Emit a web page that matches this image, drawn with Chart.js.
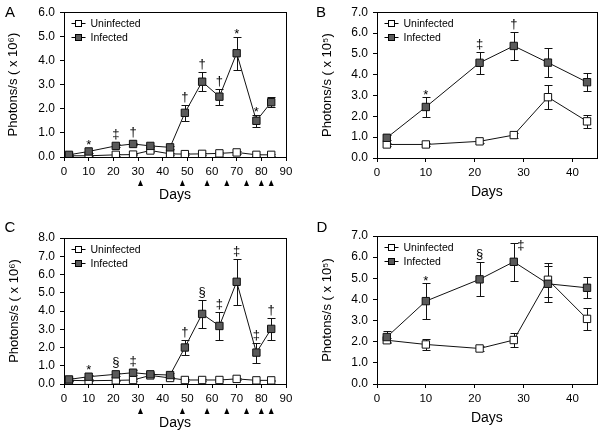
<!DOCTYPE html>
<html>
<head>
<meta charset="utf-8">
<title>Photons/s</title>
<script src="https://cdn.jsdelivr.net/npm/chart.js@4.4.1/dist/chart.umd.min.js"></script>
<style>
body { margin: 0; background: #fff; }
#figure { position: relative; width: 603px; height: 435px; }
#figure canvas { position: absolute; }
</style>
</head>
<body>
<div id="figure">
  <canvas id="panelA" width="300" height="215" style="left:0;top:0"></canvas>
  <canvas id="panelB" width="303" height="215" style="left:300px;top:0"></canvas>
  <canvas id="panelC" width="300" height="220" style="left:0;top:215px"></canvas>
  <canvas id="panelD" width="303" height="220" style="left:300px;top:215px"></canvas>
</div>
<script>
var FONT = '"Liberation Sans", Arial, Helvetica, sans-serif';
Chart.defaults.font.family = FONT;
Chart.defaults.color = '#000';

// days of imaging
var daysLong = [2, 10, 21, 28, 35, 43, 49, 56, 63, 70, 78, 84];
var daysShort = [2, 10, 21, 28, 35, 43];
var arrowDays = [31, 48, 58, 66, 74, 80, 84]; // little arrowheads under panels A and C

// panel A (x 10^6)
var infectedA = [0.09, 0.23, 0.46, 0.54, 0.46, 0.4, 1.83, 3.12, 2.5, 4.3, 1.5, 2.27];
var infectedErrA = [0.04, 0.06, 0.06, 0.05, 0.05, 0.07, 0.32, 0.4, 0.33, 0.68, 0.25, 0.2];
var uninfectedA = [0.05, 0.05, 0.09, 0.1, 0.27, 0.13, 0.12, 0.13, 0.15, 0.19, 0.09, 0.09];
var uninfectedErrA = [0.02, 0.02, 0.03, 0.03, 0.05, 0.03, 0.03, 0.03, 0.04, 0.05, 0.03, 0.03];
var sigA = ['', '*', '\u2021', '\u2020', '', '', '\u2020', '\u2020', '\u2020', '*', '*', ''];

// panel B (x 10^5)
var infectedB = [0.97, 2.45, 4.57, 5.38, 4.58, 3.64];
var infectedErrB = [0.12, 0.46, 0.52, 0.68, 0.7, 0.42];
var uninfectedB = [0.65, 0.65, 0.8, 1.1, 2.92, 1.76];
var uninfectedErrB = [0.05, 0.05, 0.06, 0.12, 0.58, 0.32];
var sigB = ['', '*', '\u2021', '\u2020', '', ''];

// panel C (x 10^6)
var infectedC = [0.25, 0.4, 0.53, 0.62, 0.53, 0.49, 2.0, 3.84, 3.18, 5.6, 1.72, 3.02];
var infectedErrC = [0.1, 0.1, 0.1, 0.12, 0.08, 0.1, 0.42, 0.75, 0.75, 1.25, 0.55, 0.62];
var uninfectedC = [0.2, 0.18, 0.2, 0.22, 0.47, 0.33, 0.22, 0.22, 0.22, 0.28, 0.2, 0.2];
var uninfectedErrC = [0.04, 0.04, 0.04, 0.05, 0.06, 0.05, 0.04, 0.04, 0.05, 0.06, 0.04, 0.04];
var sigC = ['', '*', '\u00a7', '\u2021', '', '', '\u2020', '\u00a7', '\u2021', '\u2021', '\u2021', '\u2020'];

// panel D (x 10^5)
var infectedD = [2.22, 3.92, 4.95, 5.78, 4.74, 4.55];
var infectedErrD = [0.3, 0.85, 0.8, 0.9, 0.85, 0.5];
var uninfectedD = [2.07, 1.87, 1.68, 2.08, 4.93, 3.08];
var uninfectedErrD = [0.1, 0.28, 0.1, 0.32, 0.8, 0.53];
var sigD = ['', '*', '\u00a7', '\u2021', '', ''];

function toPoints(days, values) {
  var pts = [];
  for (var i = 0; i < days.length; i++) {
    pts.push({ x: days[i], y: values[i] });
  }
  return pts;
}

var extras = {
  id: 'extras',
  beforeDatasetsDraw: function (chart) { // error bars, under the markers
    var ctx = chart.ctx;
    var xs = chart.scales.x, ys = chart.scales.y;
    ctx.save();
    ctx.strokeStyle = '#111';
    ctx.lineWidth = 1;
    chart.data.datasets.forEach(function (ds) {
      ds.data.forEach(function (p, i) {
        var e = ds.errors[i];
        if (!e) return;
        var x = Math.round(xs.getPixelForValue(p.x)) + 0.5;
        var top = Math.round(ys.getPixelForValue(p.y + e)) + 0.5;
        var bot = Math.round(ys.getPixelForValue(Math.max(p.y - e, 0))) + 0.5;
        ctx.beginPath();
        ctx.moveTo(x, top); ctx.lineTo(x, bot);
        ctx.moveTo(x - 4, top); ctx.lineTo(x + 4, top);
        ctx.moveTo(x - 4, bot); ctx.lineTo(x + 4, bot);
        ctx.stroke();
      });
    });
    ctx.restore();
  },
  afterDatasetsDraw: function (chart, args, opts) {
    var ctx = chart.ctx;
    var a = chart.chartArea;
    var xs = chart.scales.x, ys = chart.scales.y;
    ctx.save();
    // frame round the plot
    ctx.strokeStyle = '#000';
    ctx.lineWidth = 1;
    ctx.strokeRect(Math.round(a.left) + 0.5, Math.round(a.top) + 0.5,
      Math.round(a.right - a.left), Math.round(a.bottom - a.top));

    // legend, top left inside the plot
    var rows = [chart.data.datasets[1], chart.data.datasets[0]];
    ctx.font = '10.5px ' + FONT;
    ctx.textBaseline = 'middle';
    ctx.textAlign = 'left';
    rows.forEach(function (ds, r) {
      var y = Math.round(a.top + opts.legendTop + r * 13.5) + 0.5;
      var cx = Math.round(a.left + opts.legendLeft) + 0.5;
      ctx.beginPath();
      ctx.moveTo(cx - 7, y); ctx.lineTo(cx + 7, y);
      ctx.stroke();
      ctx.fillStyle = ds.pointBackgroundColor;
      ctx.fillRect(cx - 3, y - 3, 6, 6);
      ctx.strokeRect(cx - 3, y - 3, 6, 6);
      ctx.fillStyle = '#000';
      ctx.fillText(ds.label, cx + 12, y + 0.5);
    });

    // significance marks over the infected series
    var inf = chart.data.datasets[0];
    ctx.font = '13px ' + FONT;
    ctx.textAlign = 'center';
    ctx.textBaseline = 'alphabetic';
    inf.data.forEach(function (p, i) {
      var s = inf.sig[i];
      if (!s) return;
      var x = xs.getPixelForValue(p.x);
      var top = Math.min(ys.getPixelForValue(p.y + inf.errors[i]), ys.getPixelForValue(p.y) - 4);
      var base = s === '*' ? top + 1.5 : top - 4;
      if (base - 9 < a.top) { // no room above, put it beside the cap
        x += 7;
        base = top + 6;
      }
      ctx.fillText(s, x, base);
    });

    // arrowheads below the day axis
    if (opts.arrows) {
      ctx.fillStyle = '#000';
      opts.arrows.forEach(function (d) {
        var x = xs.getPixelForValue(d);
        var y = a.bottom + opts.arrowOffset;
        ctx.beginPath();
        ctx.moveTo(x - 2.5, y + 3);
        ctx.lineTo(x, y - 3);
        ctx.lineTo(x + 2.5, y + 3);
        ctx.closePath();
        ctx.fill();
      });
    }

    // panel letter
    ctx.font = '15px ' + FONT;
    ctx.textAlign = 'center';
    ctx.textBaseline = 'middle';
    ctx.fillStyle = '#000';
    ctx.fillText(opts.letter, opts.letterX, opts.letterY);
    ctx.restore();
  }
};

function makePanel(canvasId, p) {
  var datasets = [
    {
      label: 'Infected',
      data: toPoints(p.days, p.infected),
      errors: p.infectedErr,
      sig: p.sig,
      pointBackgroundColor: '#5a5a5a'
    },
    {
      label: 'Uninfected',
      data: toPoints(p.days, p.uninfected),
      errors: p.uninfectedErr,
      sig: [],
      pointBackgroundColor: '#ffffff'
    }
  ];
  datasets.forEach(function (ds) {
    ds.borderColor = '#111';
    ds.borderWidth = 1;
    ds.pointStyle = 'rect';
    ds.pointRadius = 5.2;
    ds.pointBorderColor = '#111';
    ds.pointBorderWidth = 1;
    ds.tension = 0;
    ds.fill = false;
  });

  return new Chart(document.getElementById(canvasId), {
    type: 'line',
    data: { datasets: datasets },
    plugins: [extras],
    options: {
      responsive: false,
      animation: false,
      events: [],
      layout: { padding: { left: 0, top: p.padTop, right: p.padRight, bottom: 0 } },
      plugins: {
        legend: { display: false },
        tooltip: { enabled: false },
        extras: {
          letter: p.letter, letterX: p.letterX, letterY: p.letterY,
          legendLeft: 14, legendTop: 11,
          arrows: p.arrows, arrowOffset: p.arrowOffset
        }
      },
      scales: {
        x: {
          type: 'linear',
          min: 0,
          max: p.xMax,
          afterFit: function (s) { s.height = p.xHeight; },
          grid: { drawOnChartArea: false, drawTicks: true, tickLength: 4, color: '#000' },
          border: { display: true, color: '#000', width: 1 },
          ticks: { stepSize: 10, includeBounds: false, autoSkip: false, maxRotation: 0, padding: 4, font: { size: 11.5 }, color: '#000' },
          title: { display: true, text: 'Days', font: { size: 14 }, color: '#000', padding: { top: 0, bottom: p.daysPad } }
        },
        y: {
          min: 0,
          max: p.yMax,
          afterFit: function (s) { s.width = p.yWidth; },
          grid: { drawOnChartArea: false, drawTicks: true, tickLength: 4, color: '#000' },
          border: { display: true, color: '#000', width: 1 },
          ticks: {
            stepSize: 1, padding: 5, font: { size: 12 }, color: '#000',
            callback: function (v) { return v.toFixed(1); }
          },
          title: { display: true, text: p.yTitle, font: { size: 13 }, color: '#000', padding: { top: p.yTitlePad, bottom: 0 } }
        }
      }
    }
  });
}

makePanel('panelA', {
  letter: 'A', letterX: 10, letterY: 13,
  days: daysLong, infected: infectedA, infectedErr: infectedErrA,
  uninfected: uninfectedA, uninfectedErr: uninfectedErrA, sig: sigA,
  xMax: 90, yMax: 6, yTitle: 'Photons/s ( x 10\u2076)',
  padTop: 10, padRight: 14, yWidth: 64, xHeight: 58, yTitlePad: 6, daysPad: 11,
  arrows: arrowDays, arrowOffset: 26
});

makePanel('panelB', {
  letter: 'B', letterX: 21, letterY: 13,
  days: daysShort, infected: infectedB, infectedErr: infectedErrB,
  uninfected: uninfectedB, uninfectedErr: uninfectedErrB, sig: sigB,
  xMax: 45, yMax: 7, yTitle: 'Photons/s ( x 10\u2075)',
  padTop: 11, padRight: 6, yWidth: 77, xHeight: 57, yTitlePad: 20, daysPad: 14,
  arrows: null, arrowOffset: 0
});

makePanel('panelC', {
  letter: 'C', letterX: 10, letterY: 13,
  days: daysLong, infected: infectedC, infectedErr: infectedErrC,
  uninfected: uninfectedC, uninfectedErr: uninfectedErrC, sig: sigC,
  xMax: 90, yMax: 8, yTitle: 'Photons/s ( x 10\u2076)',
  padTop: 23, padRight: 14, yWidth: 64, xHeight: 51, yTitlePad: 7, daysPad: 3,
  arrows: arrowDays, arrowOffset: 27
});

makePanel('panelD', {
  letter: 'D', letterX: 22, letterY: 13,
  days: daysShort, infected: infectedD, infectedErr: infectedErrD,
  uninfected: uninfectedD, uninfectedErr: uninfectedErrD, sig: sigD,
  xMax: 45, yMax: 7, yTitle: 'Photons/s ( x 10\u2075)',
  padTop: 21, padRight: 6, yWidth: 77, xHeight: 51, yTitlePad: 20, daysPad: 8,
  arrows: null, arrowOffset: 0
});
</script>
</body>
</html>
